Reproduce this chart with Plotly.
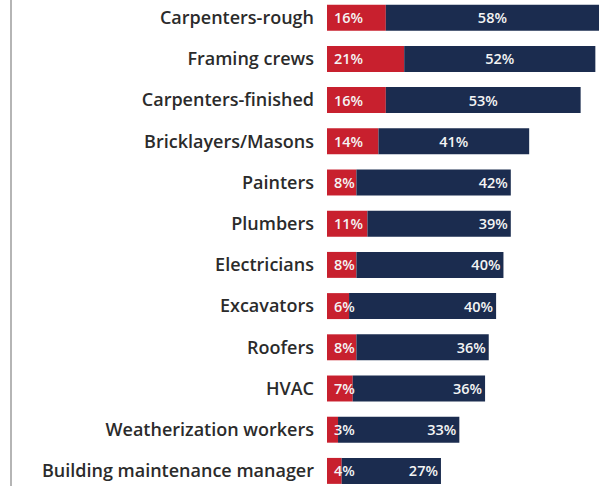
import plotly.graph_objects as go

trades = [
    "Carpenters-rough",
    "Framing crews",
    "Carpenters-finished",
    "Bricklayers/Masons",
    "Painters",
    "Plumbers",
    "Electricians",
    "Excavators",
    "Roofers",
    "HVAC",
    "Weatherization workers",
    "Building maintenance manager",
]
serious_shortage = [16, 21, 16, 14, 8, 11, 8, 6, 8, 7, 3, 4]
some_shortage = [58, 52, 53, 41, 42, 39, 40, 40, 36, 36, 33, 27]

RED = "#c8202e"
NAVY = "#1b2c4f"
LABEL_FONT = dict(family="Open Sans", size=14.5, color="#f4f4f4", weight=600)

W, H = 608, 486
LEFT = 327
PX_PER_PCT = 3.676
ROW = 41.2
FIRST_CENTER = 17.7

n = len(trades)
idx = list(range(n))
# rows whose navy label sits mid-segment vs. near the bar end
mid_rows = set(range(4))

fig = go.Figure()

fig.add_trace(go.Bar(
    y=idx, x=serious_shortage, orientation="h",
    marker=dict(color=RED, line=dict(width=0)),
    hoverinfo="skip", showlegend=False,
))

for rows, anchor in ((mid_rows, "middle"), (set(idx) - mid_rows, "end")):
    vals = [v if i in rows else None for i, v in enumerate(some_shortage)]
    fig.add_trace(go.Bar(
        y=idx, x=vals, base=serious_shortage, orientation="h",
        marker=dict(color=NAVY, line=dict(width=0)),
        text=[f"{v}%" if v is not None else "" for v in vals],
        textposition="inside", insidetextanchor=anchor,
        textfont=LABEL_FONT, constraintext="none",
        hoverinfo="skip", showlegend=False,
    ))

# red-segment labels start just after the bar origin and may run past a narrow segment
annotations = [
    dict(x=0, y=i, xref="x", yref="y", text=f"{v}%", showarrow=False,
         xanchor="left", yanchor="middle", xshift=5, font=LABEL_FONT)
    for i, v in enumerate(serious_shortage)
]

plot_w = W - LEFT
fig.update_layout(
    width=W, height=H,
    margin=dict(l=LEFT, r=0, t=0, b=0),
    paper_bgcolor="white", plot_bgcolor="white",
    barmode="overlay", bargap=0.37,
    xaxis=dict(range=[0, plot_w / PX_PER_PCT], visible=False, fixedrange=True),
    yaxis=dict(
        tickmode="array", tickvals=idx, ticktext=trades,
        range=[(n - 1) + (H - (FIRST_CENTER + (n - 1) * ROW)) / ROW, -FIRST_CENTER / ROW],
        showgrid=False, zeroline=False, showline=False,
        ticks="", ticklabelstandoff=12,
        tickfont=dict(family="Open Sans", size=18, color="#2b2b2b", weight=600),
        fixedrange=True,
    ),
    annotations=annotations,
    shapes=[dict(
        type="line", xref="paper", yref="paper",
        x0=(11 - LEFT) / plot_w, x1=(11 - LEFT) / plot_w, y0=0, y1=1,
        line=dict(color="#b5b5b5", width=2),
    )],
)

fig.write_html("out.html", config={"displayModeBar": False})
